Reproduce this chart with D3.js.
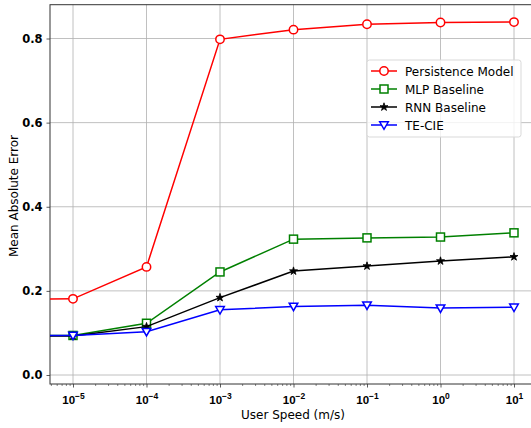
<!DOCTYPE html>
<html>
<head>
<meta charset="utf-8">
<script src="https://cdn.jsdelivr.net/npm/d3@7"></script>
<style>
  html, body { margin: 0; padding: 0; background: #fff; }
  svg { display: block; font-family: "DejaVu Sans", sans-serif; }
</style>
</head>
<body>
<svg id="chart" width="531" height="428"></svg>
<script>
// User speeds (m/s); the first point sits left of the visible axis range
const speeds = [1e-6, 1e-5, 1e-4, 1e-3, 1e-2, 1e-1, 1e0, 1e1];
const persistence = [0.180, 0.181, 0.257, 0.798, 0.821, 0.834, 0.838, 0.839];
const mlp         = [0.093, 0.094, 0.123, 0.245, 0.323, 0.326, 0.328, 0.338];
const rnn         = [0.093, 0.093, 0.115, 0.184, 0.247, 0.259, 0.271, 0.281];
const tecie       = [0.093, 0.094, 0.103, 0.155, 0.163, 0.166, 0.159, 0.161];
const seriesNames = ["Persistence Model", "MLP Baseline", "RNN Baseline", "TE-CIE"];
const xTickExps = [-5, -4, -3, -2, -1, 0, 1];
const yTicks = [0.0, 0.2, 0.4, 0.6, 0.8];

const svg = d3.select("#chart");
const plot = { left: 50, top: 4.7, right: 536, bottom: 384 };

// Scales anchored on the decade grid, then stretched to the plot frame
const xBase = d3.scaleLog().domain([1e-5, 10]).range([73, 514]);
const x = d3.scaleLog()
  .domain([xBase.invert(plot.left), xBase.invert(plot.right)])
  .range([plot.left, plot.right]);
const yBase = d3.scaleLinear().domain([0, 0.8]).range([375, 38.5]);
const y = d3.scaleLinear()
  .domain([yBase.invert(plot.bottom), yBase.invert(plot.top)])
  .range([plot.bottom, plot.top]);

svg.append("defs").append("clipPath").attr("id", "plotClip")
  .append("rect")
  .attr("x", plot.left).attr("y", plot.top)
  .attr("width", plot.right - plot.left).attr("height", plot.bottom - plot.top);

// Grid lines
const grid = svg.append("g").attr("stroke", "#b0b0b0").attr("stroke-width", 0.8);
xTickExps.forEach(e => {
  grid.append("line")
    .attr("x1", x(Math.pow(10, e))).attr("x2", x(Math.pow(10, e)))
    .attr("y1", plot.top).attr("y2", plot.bottom);
});
yTicks.forEach(v => {
  grid.append("line")
    .attr("x1", plot.left).attr("x2", plot.right)
    .attr("y1", y(v)).attr("y2", y(v));
});

// X axis: major decade ticks with superscript labels, minor log ticks
const xAxisG = svg.append("g").attr("transform", `translate(0,${plot.bottom})`);
const majorVals = xTickExps.map(e => Math.pow(10, e));
const minorVals = [];
for (let e = -6; e <= 1; e++) {
  for (let k = 2; k <= 9; k++) {
    const v = k * Math.pow(10, e);
    if (x(v) >= plot.left && x(v) <= plot.right) minorVals.push(v);
  }
}
xAxisG.append("g").call(
  d3.axisBottom(x).tickValues(minorVals).tickSize(2).tickFormat("")
).call(g => g.select(".domain").remove())
 .selectAll("line").attr("stroke", "#333").attr("stroke-width", 0.6);

const xMajor = xAxisG.append("g").call(
  d3.axisBottom(x).tickValues(majorVals).tickSize(3.5).tickFormat("")
);
xMajor.select(".domain").remove();
xMajor.selectAll("line").attr("stroke", "#333").attr("stroke-width", 0.8);
xMajor.selectAll(".tick").each(function (d) {
  const e = Math.round(Math.log10(d));
  const t = d3.select(this).append("text")
    .attr("y", 20).attr("text-anchor", "middle")
    .attr("fill", "#000").attr("font-size", 11.5).attr("font-weight", "bold");
  t.append("tspan").text("10");
  t.append("tspan").attr("dy", -5.5).attr("font-size", 8.5)
    .text(e < 0 ? "\u2212" + Math.abs(e) : String(e));
});

// Y axis
const yAxisG = svg.append("g").attr("transform", `translate(${plot.left},0)`).call(
  d3.axisLeft(y).tickValues(yTicks).tickSize(3.5).tickPadding(4).tickFormat(d3.format(".1f"))
);
yAxisG.select(".domain").remove();
yAxisG.selectAll("line").attr("stroke", "#333").attr("stroke-width", 0.8);
yAxisG.selectAll("text").attr("font-size", 11.5).attr("font-weight", "bold")
  .attr("fill", "#000").attr("font-family", "DejaVu Sans, sans-serif");

// Frame
svg.append("rect")
  .attr("x", plot.left).attr("y", plot.top)
  .attr("width", plot.right - plot.left).attr("height", plot.bottom - plot.top)
  .attr("fill", "none").attr("stroke", "#333").attr("stroke-width", 1);

// Axis titles
svg.append("text")
  .attr("x", 293).attr("y", 419).attr("text-anchor", "middle")
  .attr("font-size", 12).attr("fill", "#000")
  .text("User Speed (m/s)");
svg.append("text")
  .attr("transform", "translate(18,196) rotate(-90)")
  .attr("text-anchor", "middle").attr("font-size", 12).attr("fill", "#000")
  .text("Mean Absolute Error");

// Marker shapes
const starPath = d3.symbol().type(d3.symbolStar).size(20)();
const triPath = "M-4.3,-3.2 L4.3,-3.2 L0,4.3 Z";
function drawMarker(g, kind, color) {
  if (kind === "circle") {
    g.append("circle").attr("r", 4.2).attr("fill", "#fff")
      .attr("stroke", color).attr("stroke-width", 1.5);
  } else if (kind === "square") {
    g.append("rect").attr("x", -4).attr("y", -4).attr("width", 8).attr("height", 8)
      .attr("fill", "#fff").attr("stroke", color).attr("stroke-width", 1.5);
  } else if (kind === "star") {
    g.append("path").attr("d", starPath).attr("fill", color)
      .attr("stroke", color).attr("stroke-width", 0.8);
  } else {
    g.append("path").attr("d", triPath).attr("fill", "#fff")
      .attr("stroke", color).attr("stroke-width", 1.5);
  }
}

const series = [
  { name: seriesNames[0], values: persistence, color: "#ff0000", marker: "circle" },
  { name: seriesNames[1], values: mlp,         color: "#008000", marker: "square" },
  { name: seriesNames[2], values: rnn,         color: "#000000", marker: "star" },
  { name: seriesNames[3], values: tecie,       color: "#0000ff", marker: "tri" }
];

const line = d3.line().x(d => x(d[0])).y(d => y(d[1]));
const dataG = svg.append("g").attr("clip-path", "url(#plotClip)");
series.forEach(s => {
  const pts = speeds.map((v, i) => [v, s.values[i]]);
  dataG.append("path").datum(pts).attr("d", line)
    .attr("fill", "none").attr("stroke", s.color).attr("stroke-width", 1.5);
  pts.forEach(p => {
    const g = dataG.append("g").attr("transform", `translate(${x(p[0])},${y(p[1])})`);
    drawMarker(g, s.marker, s.color);
  });
});

// Legend
const legend = svg.append("g").attr("transform", "translate(367,60)");
legend.append("rect")
  .attr("width", 154).attr("height", 77).attr("rx", 2.5)
  .attr("fill", "#fff").attr("fill-opacity", 0.8)
  .attr("stroke", "#d9d9d9").attr("stroke-width", 1);
series.forEach((s, i) => {
  const cy = 11 + i * 18;
  const row = legend.append("g").attr("transform", `translate(0,${cy})`);
  row.append("line").attr("x1", 4).attr("x2", 30).attr("y1", 0).attr("y2", 0)
    .attr("stroke", s.color).attr("stroke-width", 1.5);
  drawMarker(row.append("g").attr("transform", "translate(17,0)"), s.marker, s.color);
  row.append("text").attr("x", 38).attr("y", 4.5)
    .attr("font-size", 12).attr("fill", "#000").text(s.name);
});
</script>
</body>
</html>
